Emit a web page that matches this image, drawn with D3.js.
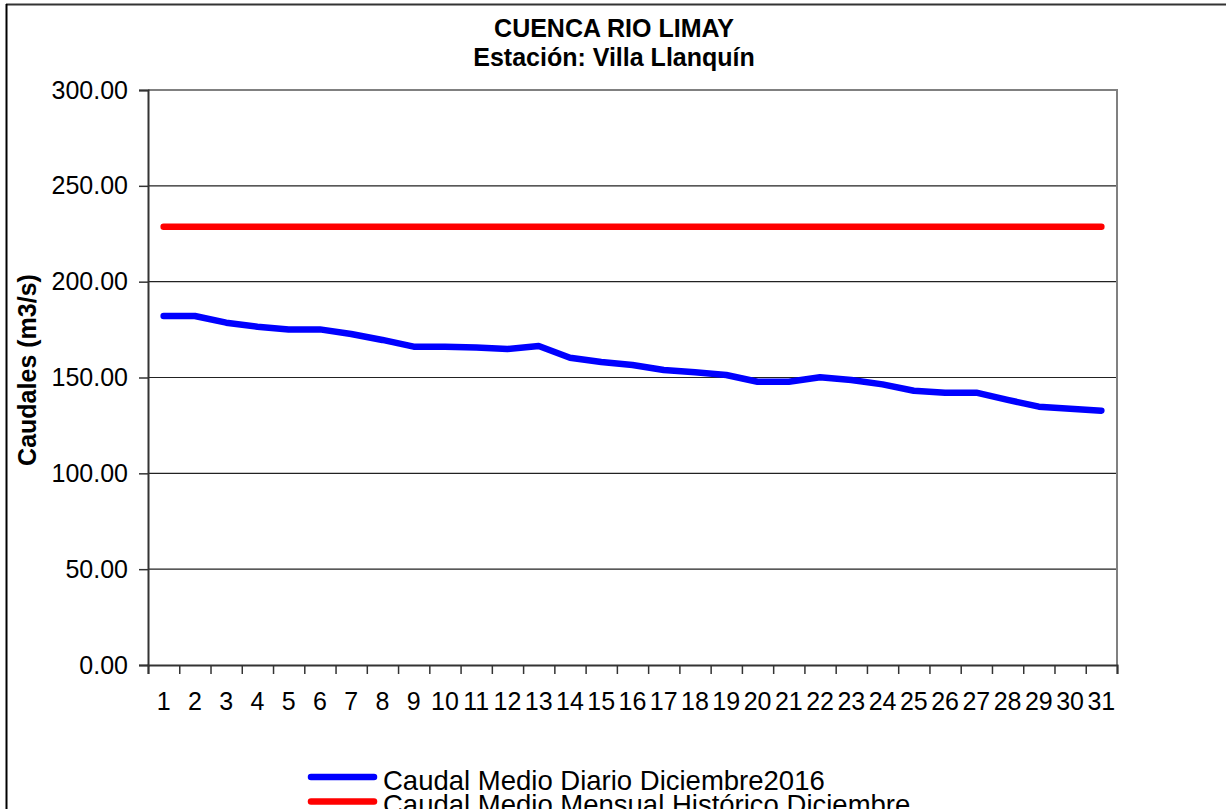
<!DOCTYPE html>
<html>
<head>
<meta charset="utf-8">
<script src="https://cdn.jsdelivr.net/npm/d3@7"></script>
<style>
  html, body { margin: 0; padding: 0; background: #fff; }
  svg { display: block; font-family: "Liberation Sans", Arial, sans-serif; }
</style>
</head>
<body>
<svg id="chart" width="1226" height="809"></svg>
<script>
// Daily mean flow, December 2016, Villa Llanquín station (m3/s)
const days = d3.range(1, 32);
const dailyFlow = [
  182.1, 182.1, 178.6, 176.5, 175.1, 175.1, 172.7, 169.6, 166.1, 166.1,
  165.7, 164.9, 166.4, 160.3, 158.1, 156.5, 153.9, 152.7, 151.3, 147.8,
  147.8, 150.1, 148.7, 146.4, 143.1, 142.1, 142.1, 138.3, 134.8, 133.7,
  132.7
];
// Historical monthly mean for December, constant across the month
const historicalMean = days.map(() => 228.7);
const yTicks = [0, 50, 100, 150, 200, 250, 300];
const titleLines = ["CUENCA RIO LIMAY", "Estación: Villa Llanquín"];
const yTitle = "Caudales (m3/s)";
const seriesNames = ["Caudal Medio Diario Diciembre2016", "Caudal Medio Mensual Histórico Diciembre"];
const seriesColors = ["#0000ff", "#ff0000"];

const svg = d3.select("#chart");
const plot = { left: 148, right: 1117, top: 90, bottom: 665 };

// Outer frame (top and left edges)
svg.append("line").attr("x1", 6).attr("x2", 1226).attr("y1", 4.5).attr("y2", 4.5)
  .attr("stroke", "#333").attr("stroke-width", 2);
svg.append("line").attr("x1", 6.5).attr("x2", 6.5).attr("y1", 4).attr("y2", 809)
  .attr("stroke", "#000").attr("stroke-width", 2);

const x = d3.scaleBand().domain(days).range([plot.left, plot.right]).padding(0);
const xEdges = d3.scaleLinear().domain([0, days.length]).range([plot.left, plot.right]);
const y = d3.scaleLinear().domain([0, 300]).range([plot.bottom, plot.top]);
const cx = d => x(d) + x.bandwidth() / 2;

// Horizontal gridlines
svg.append("g").selectAll("line")
  .data(yTicks.filter(v => v > 0 && v < 300))
  .join("line")
  .attr("x1", plot.left).attr("x2", plot.right)
  .attr("y1", d => y(d)).attr("y2", d => y(d))
  .attr("stroke", "#222").attr("stroke-width", 1.2);

// Plot area border: top and right in grey
svg.append("path")
  .attr("d", `M${plot.left},${y(300)}H${plot.right}V${plot.bottom}`)
  .attr("fill", "none").attr("stroke", "#808080").attr("stroke-width", 2);

// Y axis
const yAxis = svg.append("g")
  .attr("transform", `translate(${plot.left},0)`)
  .call(d3.axisLeft(y).tickValues(yTicks).tickFormat(d3.format(".2f")).tickSize(9).tickPadding(11));
yAxis.select(".domain").attr("stroke", "#333").attr("stroke-width", 2);
yAxis.selectAll(".tick line").attr("stroke", "#333").attr("stroke-width", 1.5);
yAxis.selectAll(".tick text")
  .attr("font-size", 25).attr("fill", "#000")
  .attr("font-family", "Liberation Sans, Arial, sans-serif");

// X axis: tick marks at category boundaries, labels at category centres
const xTickAxis = svg.append("g")
  .attr("transform", `translate(0,${plot.bottom})`)
  .call(d3.axisBottom(xEdges).tickValues(d3.range(0, days.length + 1)).tickSize(9).tickFormat(""));
xTickAxis.select(".domain").attr("stroke", "#333").attr("stroke-width", 2);
xTickAxis.selectAll(".tick line").attr("stroke", "#333").attr("stroke-width", 1.5);

const xLabelAxis = svg.append("g")
  .attr("transform", `translate(0,${plot.bottom})`)
  .call(d3.axisBottom(x).tickSize(0).tickPadding(27));
xLabelAxis.select(".domain").remove();
xLabelAxis.selectAll(".tick text")
  .attr("font-size", 25).attr("fill", "#000")
  .attr("font-family", "Liberation Sans, Arial, sans-serif");

// Series lines
const line = d3.line().x((d, i) => cx(days[i])).y(d => y(d));
[dailyFlow, historicalMean].forEach((vals, i) => {
  svg.append("path")
    .datum(vals)
    .attr("d", line)
    .attr("fill", "none")
    .attr("stroke", seriesColors[i])
    .attr("stroke-width", 6.5)
    .attr("stroke-linejoin", "round")
    .attr("stroke-linecap", "round");
});

// Titles
svg.append("g").selectAll("text")
  .data(titleLines)
  .join("text")
  .attr("x", 614)
  .attr("y", (d, i) => 37 + i * 29)
  .attr("text-anchor", "middle")
  .attr("font-size", 25)
  .attr("font-weight", "bold")
  .text(d => d);

// Y axis title
svg.append("text")
  .attr("transform", "translate(36,370) rotate(-90)")
  .attr("text-anchor", "middle")
  .attr("font-size", 25)
  .attr("font-weight", "bold")
  .text(yTitle);

// Legend
const legend = svg.append("g").selectAll("g")
  .data(seriesNames)
  .join("g")
  .attr("transform", (d, i) => `translate(0,${777 + i * 24.5})`);
legend.append("line")
  .attr("x1", 311).attr("x2", 374).attr("y1", 0).attr("y2", 0)
  .attr("stroke", (d, i) => seriesColors[i])
  .attr("stroke-width", 6.5)
  .attr("stroke-linecap", "round");
legend.append("text")
  .attr("x", 383).attr("y", 12.5)
  .attr("font-size", 27.5)
  .text(d => d);
</script>
</body>
</html>
